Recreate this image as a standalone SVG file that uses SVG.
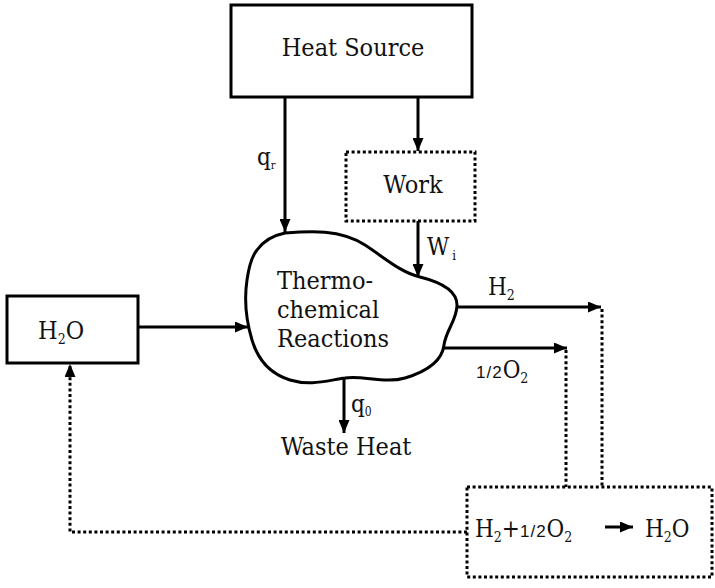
<svg xmlns="http://www.w3.org/2000/svg" width="715" height="588" viewBox="0 0 715 588">
<style>
.t{font-family:"DejaVu Serif Condensed","DejaVu Serif",serif;font-stretch:condensed;fill:#111;}
.big{font-size:25px;}
.lab{font-size:24px;}
.sub{font-size:14px;}
.frac{font-family:"Liberation Sans","DejaVu Sans",sans-serif;font-stretch:normal;font-size:17px;letter-spacing:1px;}
.box{fill:#fff;stroke:#000;stroke-width:3;}
.dbox{fill:#fff;stroke:#000;stroke-width:3;stroke-dasharray:3 2.6;}
.ln{fill:none;stroke:#000;stroke-width:3;}
.dl{fill:none;stroke:#000;stroke-width:3;stroke-dasharray:3 2.6;}
</style>
<defs>
<marker id="ah" markerUnits="userSpaceOnUse" markerWidth="13" markerHeight="11" refX="13" refY="5.5" orient="auto">
<path d="M0,0 L13,5.5 L0,11 Z" fill="#000"/>
</marker>
</defs>
<rect width="715" height="588" fill="#fff"/>

<g id="connectors">
<line class="ln" x1="285" y1="97" x2="285" y2="232" marker-end="url(#ah)"/>
<line class="ln" x1="418" y1="97" x2="418" y2="151" marker-end="url(#ah)"/>
<line class="ln" x1="418" y1="221" x2="418" y2="277" marker-end="url(#ah)"/>
<line class="ln" x1="138" y1="327" x2="248" y2="327" marker-end="url(#ah)"/>
<line class="ln" x1="456" y1="307" x2="601" y2="307" marker-end="url(#ah)"/>
<line class="ln" x1="443" y1="348" x2="567" y2="348" marker-end="url(#ah)"/>
<line class="ln" x1="344" y1="379" x2="344" y2="433" marker-end="url(#ah)"/>
<line class="dl" x1="602" y1="309" x2="602" y2="487"/>
<line class="dl" x1="566" y1="350" x2="566" y2="487"/>
<polyline class="dl" points="467,532 70,532 70,364" marker-end="url(#ah)"/>
</g>

<g id="heat-source">
<rect class="box" x="231" y="5" width="241" height="92"/>
<text class="t big" x="353" y="56" text-anchor="middle">Heat Source</text>
</g>

<g id="work">
<rect class="dbox" x="346" y="152" width="129" height="69"/>
<text class="t big" x="413" y="193" text-anchor="middle">Work</text>
</g>

<g id="reactions">
<path class="ln" fill="#fff" d="M285,233 C310,231 340,229 365,245 C385,258 400,272 420,277 C440,282 457,290 457,305 C457,320 446,330 444,345 C442,362 425,372 405,378 C385,384 362,375 345,378 C325,381 310,386 290,380 C270,374 258,360 252,340 C246,320 244,300 247,280 C249,266 252,256 257,250 C262,243 270,236 285,233 Z"/>
<text class="t big" x="277" y="289">Thermo-</text>
<text class="t big" x="277" y="318">chemical</text>
<text class="t big" x="277" y="347">Reactions</text>
</g>

<g id="h2o">
<rect class="box" x="7" y="296" width="131" height="67"/>
<text class="t big" x="38" y="339">H<tspan class="sub" dy="5">2</tspan><tspan dy="-5">O</tspan></text>
</g>

<g id="recombination">
<rect class="dbox" x="467" y="487" width="245" height="90"/>
<text class="t lab" x="475" y="537">H<tspan class="sub" dy="5">2</tspan><tspan dy="-5">+</tspan><tspan class="frac">1/2</tspan>O<tspan class="sub" dy="5">2</tspan></text>
<line class="ln" x1="605" y1="527" x2="633" y2="527" marker-end="url(#ah)"/>
<text class="t lab" x="645" y="537">H<tspan class="sub" dy="5">2</tspan><tspan dy="-5">O</tspan></text>
</g>

<g id="labels">
<text class="t lab" x="257" y="165">q<tspan font-size="11" dy="4">r</tspan></text>
<text class="t lab" x="427" y="255">W<tspan font-size="13" dy="5" dx="3">i</tspan></text>
<text class="t lab" x="488" y="295">H<tspan class="sub" dy="5">2</tspan></text>
<text class="t lab" x="476" y="378"><tspan class="frac">1/2</tspan>O<tspan class="sub" dy="5">2</tspan></text>
<text class="t lab" x="351" y="412">q<tspan font-size="12" dy="4">0</tspan></text>
<text class="t big" x="346" y="455" text-anchor="middle">Waste Heat</text>
</g>
</svg>
